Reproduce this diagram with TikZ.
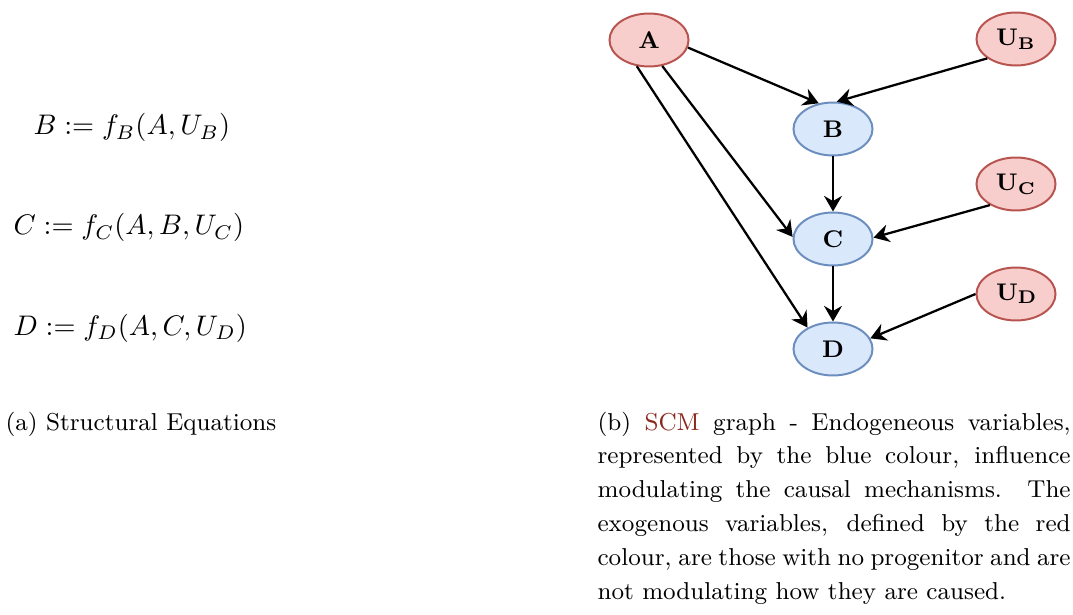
\documentclass[tikz,border=0pt]{standalone}
\usetikzlibrary{arrows.meta,shapes.geometric}
\definecolor{redfill}{HTML}{F8CECC}
\definecolor{redline}{HTML}{B85450}
\definecolor{bluefill}{HTML}{DAE8FC}
\definecolor{blueline}{HTML}{6C8EBF}
\definecolor{linkred}{rgb}{0.55,0.16,0.12}
\begin{document}
\begin{tikzpicture}[x=0.353pt,y=-0.353pt,
  var/.style={ellipse,minimum width=27.9pt,minimum height=18.7pt,inner sep=0pt,line width=0.7pt,font=\fontsize{8.5}{10}\selectfont\bfseries},
  exo/.style={var,draw=redline,fill=redfill},
  endo/.style={var,draw=blueline,fill=bluefill},
  edge/.style={line width=0.8pt,-{Stealth[length=5.5pt,width=6.3pt,inset=1.8pt]}},
  eqtext/.style={anchor=base west,inner sep=0pt},
  captext/.style={anchor=base west,inner sep=0pt,font=\fontsize{8.63}{12}\selectfont}]
\useasboundingbox (0,0) rectangle (1073,615);
% equations
\node[eqtext] (eqB) at (33,135) {$B := f_B(A,U_B)$};
\node[eqtext] (eqC) at (13,235) {$C := f_C(A,B,U_C)$};
\node[eqtext] (eqD) at (13,335) {$D := f_D(A,C,U_D)$};
% nodes
\node[exo] (A) at (649,40) {A};
\node[exo] (UB) at (1016,39) {U$_{\mathbf{B}}$};
\node[exo] (UC) at (1016,184) {U$_{\mathbf{C}}$};
\node[exo] (UD) at (1016,294) {U\raisebox{-0.25ex}{\fontsize{6.5}{7}\selectfont D}};
\node[endo] (B) at (833,129) {B};
\node[endo] (C) at (833,239) {C};
\node[endo] (D) at (833,349) {D};
% edges
\draw[edge] (A.-11) -- (B.119);
\draw[edge] (UB.214) -- (B.82);
\draw[edge] (A.-63) -- (C.177);
\draw[edge] (A.245) -- (D.140);
\draw[edge] (B.south) -- (C.north);
\draw[edge] (C.south) -- (D.north);
\draw[edge] (UC.219) -- (C.2);
\draw[edge] (UD.180) -- (D.16);
% captions
\node[captext] (capa) at (5,430) {(a) Structural Equations};
\node[captext] (capb) at (597,430) {\parbox[t]{167pt}{\fontsize{8.63}{12}\selectfont
(b) \textcolor{linkred}{SCM} graph - Endogeneous variables,\linebreak
represented by the blue colour, influence\linebreak
modulating the causal mechanisms. The\linebreak
exogenous variables, defined by the red\linebreak
colour, are those with no progenitor and are\linebreak
not modulating how they are caused.}};
\end{tikzpicture}
\end{document}
